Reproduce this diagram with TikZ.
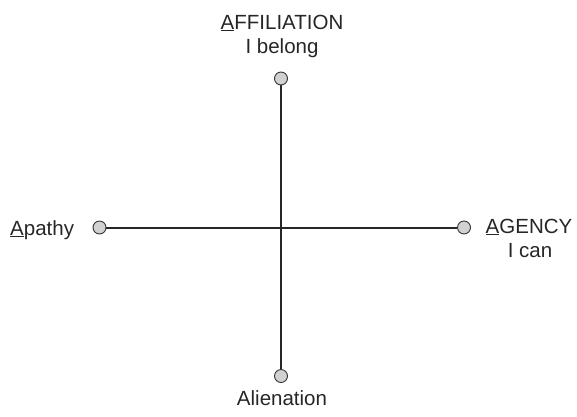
\documentclass[tikz,border=0pt]{standalone}
\usepackage{fontspec}
\setmainfont{Liberation Sans}
\begin{document}
\begin{tikzpicture}[x=1pt,y=-1pt,
  axis/.style={line width=2pt, draw=black!85},
  endpt/.style={circle, draw=black!80, line width=0.9pt, fill=black!18, minimum size=13pt, inner sep=0pt},
  lbl/.style={font=\fontsize{20.5}{24}\selectfont, inner sep=0pt, align=center, text=black!85}]
\useasboundingbox (0,0) rectangle (577,416);
\coordinate (c) at (281,227.5);
\node[endpt] (top) at (281,78.5) {};
\node[endpt] (bot) at (281,376) {};
\node[endpt] (lft) at (99.5,227.5) {};
\node[endpt] (rgt) at (464,227.5) {};
\draw[axis] (top) -- (bot);
\draw[axis] (lft) -- (rgt);
\node[lbl, anchor=base] (aff) at (282,29) {\underline{A}FFILIATION};
\node[lbl, anchor=base] (bel) at (282,53) {I belong};
\node[lbl, anchor=base west] (apa) at (10,235) {\underline{A}pathy};
\node[lbl, anchor=base] (age) at (529,233) {\underline{A}GENCY};
\node[lbl, anchor=base] (can) at (530,257) {I can};
\node[lbl, anchor=base] (ali) at (282,405) {Alienation};
\end{tikzpicture}
\end{document}
